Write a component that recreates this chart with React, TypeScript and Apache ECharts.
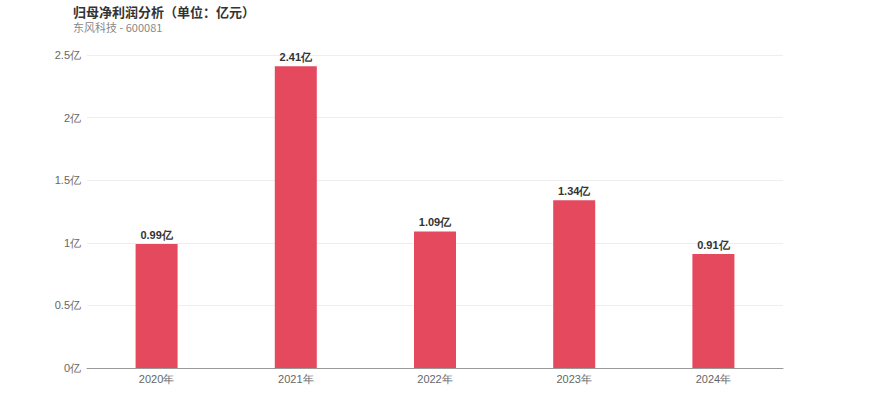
import React, { useEffect, useRef } from "react";
import * as echarts from "echarts";

const categories = ["2020年", "2021年", "2022年", "2023年", "2024年"];
const values = [0.99, 2.41, 1.09, 1.34, 0.91];
const titleText = "归母净利润分析（单位：亿元）";
const subText = "东风科技 - 600081";

export default function App() {
  const ref = useRef<HTMLDivElement>(null);
  useEffect(() => {
    const chart = echarts.init(ref.current!, null, { renderer: "svg" });
    chart.setOption({
      animation: false,
      title: {
        text: titleText,
        subtext: subText,
        left: 68,
        top: 0,
        itemGap: 4,
        textStyle: { fontSize: 13, fontWeight: "bold", color: "#333", fontFamily: "Noto Sans CJK SC" },
        subtextStyle: { fontSize: 11, color: "#888", fontFamily: "Noto Sans CJK SC" },
      },
      grid: { left: 87, right: 87, top: 55, bottom: 49 },
      xAxis: {
        type: "category",
        data: categories,
        axisLine: { lineStyle: { color: "#999" } },
        axisTick: { show: false },
        axisLabel: { color: "#666", fontSize: 11, margin: 5 },
      },
      yAxis: {
        type: "value",
        min: 0,
        max: 2.5,
        interval: 0.5,
        axisLine: { show: false },
        axisTick: { show: false },
        splitLine: { lineStyle: { color: "#eee" } },
        axisLabel: { color: "#666", fontSize: 11, margin: 6, formatter: (v: number) => v + "亿" },
      },
      series: [
        {
          type: "bar",
          data: values,
          barWidth: 42,
          itemStyle: { color: "#e5495e" },
          label: {
            show: true,
            position: "top",
            distance: 4,
            color: "#333",
            fontWeight: "bold",
            fontSize: 11,
            formatter: (p: any) => p.value + "亿",
          },
        },
      ],
    });
    return () => chart.dispose();
  }, []);
  return <div ref={ref} style={{ position: "absolute", left: 0, top: 0, width: 870, height: 417 }} />;
}
